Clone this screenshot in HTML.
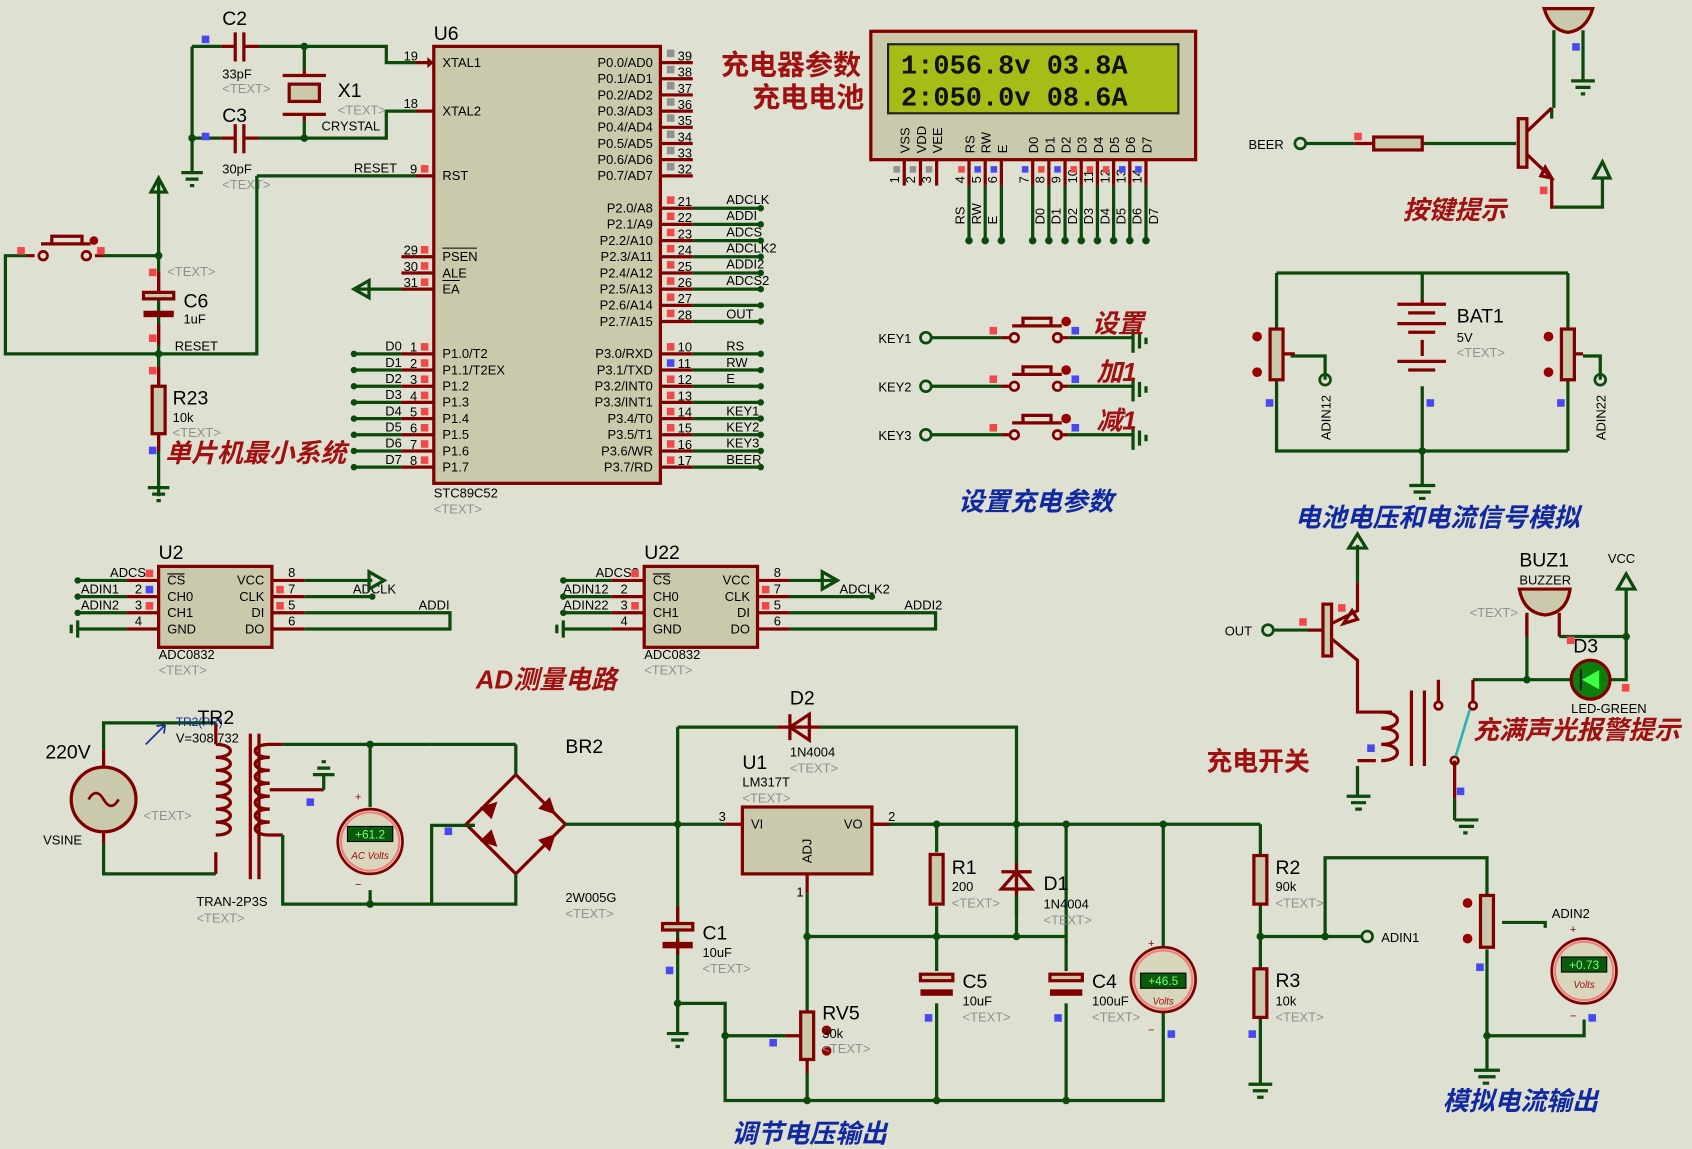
<!DOCTYPE html>
<html><head><meta charset="utf-8"><style>
html,body{margin:0;padding:0;background:#dee0d1;}
svg{display:block}
text{font-family:"Liberation Sans","Noto Sans CJK SC",sans-serif;}
.t{font-size:12px;fill:#000}
.g{font-size:12px;fill:#909090}
.n{font-size:18px;fill:#000}
.r{font-size:24px;font-weight:bold;font-style:italic;fill:#a01010}
.b{font-size:24px;font-weight:bold;font-style:italic;fill:#1028a0}
.w{stroke:#0b4a0b;stroke-width:3;fill:none}
.p{stroke:#800000;stroke-width:3;fill:none}
.c{stroke:#800000;stroke-width:3;fill:#cac9ac}
.d{fill:#0b4a0b}
.rs{fill:#f04848}.bs{fill:#4848f0}.gs{fill:#909090}
</style></head><body>
<svg width="1692" height="1149" viewBox="0 0 1568 1065" preserveAspectRatio="none" xmlns="http://www.w3.org/2000/svg">
<rect width="1568" height="1065" fill="#dee0d1"/>

<!-- ===== Crystal section ===== -->
<path class="w" d="M178 43H205M240 43H358V58H385M178 43V160M178 128H205M240 128H358V103H385M282 43V65M282 112V128"/>
<path class="p" d="M205 43H218M226 43H240M205 128H218M226 128H240M218 30V57M226 30V57M218 115V142M226 115V142M282 65V70M282 106V112M262 70H302M262 106H302"/>
<rect x="268" y="78" width="28" height="16" class="c"/>
<circle cx="282" cy="43" r="3.5" class="d"/><circle cx="282" cy="128" r="3.5" class="d"/><circle cx="178" cy="128" r="3.5" class="d"/>
<rect x="187" y="33" width="7" height="7" class="bs"/><rect x="187" y="123" width="7" height="7" class="bs"/>
<path class="w" d="M168 160H188M172 166H184M176 172H180"/>
<text x="206" y="23" class="n">C2</text><text x="206" y="73" class="t">33pF</text><text x="206" y="86" class="g">&lt;TEXT&gt;</text>
<text x="206" y="113" class="n">C3</text><text x="206" y="161" class="t">30pF</text><text x="206" y="175" class="g">&lt;TEXT&gt;</text>
<text x="313" y="90" class="n">X1</text><text x="313" y="106" class="g">&lt;TEXT&gt;</text><text x="298" y="121" class="t">CRYSTAL</text>
<path class="p" d="M385 58H402M385 103H402M385 163H402"/>
<text x="374" y="56" class="t">19</text><text x="374" y="100" class="t">18</text>
<!-- RESET -->
<path class="w" d="M238 163H385M238 163V328H5V237H25M147 165V460M95 237H147"/>
<path class="p" d="M25 237H32M88 237H95M147 252V270M147 300V320M147 340V358M147 402V418"/>
<circle cx="40" cy="237" r="4" fill="none" stroke="#800000" stroke-width="2.5"/><circle cx="80" cy="237" r="4" fill="none" stroke="#800000" stroke-width="2.5"/>
<path class="p" d="M38 226H84M48 226V219H76V226"/>
<circle cx="87" cy="223" r="4" fill="#900"/>
<rect x="16" y="229" width="7" height="7" class="rs"/><rect x="90" y="229" width="7" height="7" class="rs"/>
<circle cx="147" cy="237" r="3.5" class="d"/><circle cx="147" cy="328" r="3.5" class="d"/>
<path class="w" d="M147 165L140 178H154Z"/>
<rect x="133" y="271" width="28" height="6" class="c"/><path class="p" d="M133 290H161"/>
<rect x="133" y="288" width="28" height="6" fill="#800000"/>
<rect x="138" y="249" width="7" height="7" class="rs"/><rect x="138" y="310" width="7" height="7" class="rs"/><rect x="138" y="340" width="7" height="7" class="rs"/><rect x="138" y="414" width="7" height="7" class="bs"/>
<rect x="141" y="358" width="12" height="44" class="c"/>
<path class="w" d="M137 452H157M141 458H153M145 464H149"/>
<text x="155" y="256" class="g">&lt;TEXT&gt;</text><text x="170" y="285" class="n">C6</text><text x="170" y="300" class="t">1uF</text>
<text x="162" y="325" class="t">RESET</text><text x="328" y="160" class="t">RESET</text><text x="380" y="161" class="t">9</text>
<rect x="390" y="153" width="7" height="7" class="rs"/>
<text x="160" y="375" class="n">R23</text><text x="160" y="391" class="t">10k</text><text x="160" y="405" class="g">&lt;TEXT&gt;</text>
<text x="153" y="428" class="r">单片机最小系统</text>

<!-- ===== U6 ===== -->
<rect x="402" y="43" width="210" height="405" class="c" fill="#cccbb0"/>
<text x="402" y="37" class="n">U6</text>
<text x="402" y="461" class="t">STC89C52</text><text x="402" y="476" class="g">&lt;TEXT&gt;</text>
<path d="M402 58l-6 -5v10z" fill="#800000"/>
<g class="t">
<text x="410" y="62">XTAL1</text><text x="410" y="107">XTAL2</text><text x="410" y="167">RST</text>
<text x="410" y="242">PSEN</text><text x="410" y="257">ALE</text><text x="410" y="272">EA</text>
<text x="410" y="332">P1.0/T2</text><text x="410" y="347">P1.1/T2EX</text><text x="410" y="362">P1.2</text><text x="410" y="377">P1.3</text><text x="410" y="392">P1.4</text><text x="410" y="407">P1.5</text><text x="410" y="422">P1.6</text><text x="410" y="437">P1.7</text>
</g>
<path stroke="#000" stroke-width="1" d="M410 230H442M410 260H426"/>
<g class="t" text-anchor="end">
<text x="605" y="62">P0.0/AD0</text><text x="605" y="77">P0.1/AD1</text><text x="605" y="92">P0.2/AD2</text><text x="605" y="107">P0.3/AD3</text><text x="605" y="122">P0.4/AD4</text><text x="605" y="137">P0.5/AD5</text><text x="605" y="152">P0.6/AD6</text><text x="605" y="167">P0.7/AD7</text>
<text x="605" y="197">P2.0/A8</text><text x="605" y="212">P2.1/A9</text><text x="605" y="227">P2.2/A10</text><text x="605" y="242">P2.3/A11</text><text x="605" y="257">P2.4/A12</text><text x="605" y="272">P2.5/A13</text><text x="605" y="287">P2.6/A14</text><text x="605" y="302">P2.7/A15</text>
<text x="605" y="332">P3.0/RXD</text><text x="605" y="347">P3.1/TXD</text><text x="605" y="362">P3.2/INT0</text><text x="605" y="377">P3.3/INT1</text><text x="605" y="392">P3.4/T0</text><text x="605" y="407">P3.5/T1</text><text x="605" y="422">P3.6/WR</text><text x="605" y="437">P3.7/RD</text>
</g>
<path class="p" d="M612 58H642M612 73H642M612 88H642M612 103H642M612 118H642M612 133H642M612 148H642M612 163H642"/>
<g class="t"><text x="628" y="56">39</text><text x="628" y="71">38</text><text x="628" y="86">37</text><text x="628" y="101">36</text><text x="628" y="116">35</text><text x="628" y="131">34</text><text x="628" y="146">33</text><text x="628" y="161">32</text></g>
<g class="gs"><rect x="618" y="46" width="7" height="7"/><rect x="618" y="61" width="7" height="7"/><rect x="618" y="76" width="7" height="7"/><rect x="618" y="91" width="7" height="7"/><rect x="618" y="106" width="7" height="7"/><rect x="618" y="121" width="7" height="7"/><rect x="618" y="136" width="7" height="7"/><rect x="618" y="151" width="7" height="7"/></g>
<path class="p" d="M612 193H642M612 208H642M612 223H642M612 238H642M612 253H642M612 268H642M612 283H642M612 298H642"/>
<path class="w" d="M642 193H705M642 208H705M642 223H705M642 238H705M642 253H705M642 268H705M642 283H705M642 298H705"/>
<g class="t"><text x="628" y="191">21</text><text x="628" y="206">22</text><text x="628" y="221">23</text><text x="628" y="236">24</text><text x="628" y="251">25</text><text x="628" y="266">26</text><text x="628" y="281">27</text><text x="628" y="296">28</text>
<text x="673" y="189">ADCLK</text><text x="673" y="204">ADDI</text><text x="673" y="219">ADCS</text><text x="673" y="234">ADCLK2</text><text x="673" y="249">ADDI2</text><text x="673" y="264">ADCS2</text><text x="673" y="295">OUT</text></g>
<g class="d"><circle cx="705" cy="193" r="3"/><circle cx="705" cy="208" r="3"/><circle cx="705" cy="223" r="3"/><circle cx="705" cy="238" r="3"/><circle cx="705" cy="253" r="3"/><circle cx="705" cy="268" r="3"/><circle cx="705" cy="283" r="3"/><circle cx="705" cy="298" r="3"/></g>
<g class="rs"><rect x="618" y="182" width="7" height="7"/><rect x="618" y="197" width="7" height="7"/><rect x="618" y="212" width="7" height="7"/><rect x="618" y="227" width="7" height="7"/><rect x="618" y="242" width="7" height="7"/><rect x="618" y="257" width="7" height="7"/><rect x="618" y="272" width="7" height="7"/><rect x="618" y="287" width="7" height="7"/></g>
<path class="p" d="M612 328H642M612 343H642M612 358H642M612 373H642M612 388H642M612 403H642M612 418H642M612 433H642"/>
<path class="w" d="M642 328H705M642 343H705M642 358H705M642 373H705M642 388H705M642 403H705M642 418H705M642 433H705"/>
<g class="t"><text x="628" y="326">10</text><text x="628" y="341">11</text><text x="628" y="356">12</text><text x="628" y="371">13</text><text x="628" y="386">14</text><text x="628" y="401">15</text><text x="628" y="416">16</text><text x="628" y="431">17</text>
<text x="673" y="325">RS</text><text x="673" y="340">RW</text><text x="673" y="355">E</text><text x="673" y="385">KEY1</text><text x="673" y="400">KEY2</text><text x="673" y="415">KEY3</text><text x="673" y="430">BEER</text></g>
<g class="d"><circle cx="705" cy="328" r="3"/><circle cx="705" cy="343" r="3"/><circle cx="705" cy="358" r="3"/><circle cx="705" cy="373" r="3"/><circle cx="705" cy="388" r="3"/><circle cx="705" cy="403" r="3"/><circle cx="705" cy="418" r="3"/><circle cx="705" cy="433" r="3"/></g>
<g class="rs"><rect x="618" y="318" width="7" height="7"/><rect x="618" y="348" width="7" height="7"/><rect x="618" y="363" width="7" height="7"/><rect x="618" y="378" width="7" height="7"/><rect x="618" y="393" width="7" height="7"/><rect x="618" y="408" width="7" height="7"/><rect x="618" y="423" width="7" height="7"/></g>
<g class="bs"><rect x="618" y="333" width="7" height="7"/></g>
<path class="p" d="M372 238H402M372 253H402M372 268H402M372 328H402M372 343H402M372 358H402M372 373H402M372 388H402M372 403H402M372 418H402M372 433H402"/>
<path class="w" d="M328 268H372M328 328H372M328 343H372M328 358H372M328 373H372M328 388H372M328 403H372M328 418H372M328 433H372"/>
<path class="w" d="M328 268l14 -8v16z"/>
<g class="t"><text x="374" y="236">29</text><text x="374" y="251">30</text><text x="374" y="266">31</text>
<text x="380" y="326">1</text><text x="380" y="341">2</text><text x="380" y="356">3</text><text x="380" y="371">4</text><text x="380" y="386">5</text><text x="380" y="401">6</text><text x="380" y="416">7</text><text x="380" y="431">8</text>
<text x="357" y="325">D0</text><text x="357" y="340">D1</text><text x="357" y="355">D2</text><text x="357" y="370">D3</text><text x="357" y="385">D4</text><text x="357" y="400">D5</text><text x="357" y="415">D6</text><text x="357" y="430">D7</text></g>
<g class="d"><circle cx="328" cy="328" r="3"/><circle cx="328" cy="343" r="3"/><circle cx="328" cy="358" r="3"/><circle cx="328" cy="373" r="3"/><circle cx="328" cy="388" r="3"/><circle cx="328" cy="403" r="3"/><circle cx="328" cy="418" r="3"/><circle cx="328" cy="433" r="3"/></g>
<g class="rs"><rect x="390" y="228" width="7" height="7"/><rect x="390" y="243" width="7" height="7"/><rect x="390" y="258" width="7" height="7"/><rect x="390" y="318" width="7" height="7"/><rect x="390" y="333" width="7" height="7"/><rect x="390" y="348" width="7" height="7"/><rect x="390" y="363" width="7" height="7"/><rect x="390" y="378" width="7" height="7"/><rect x="390" y="393" width="7" height="7"/><rect x="390" y="408" width="7" height="7"/><rect x="390" y="423" width="7" height="7"/></g>

<!-- ===== LCD ===== -->
<text x="668" y="69" class="r" style="font-style:normal;font-size:26px">充电器参数</text>
<text x="697" y="99" class="r" style="font-style:normal;font-size:26px">充电电池</text>
<rect x="807" y="29" width="301" height="119" class="c" fill="#cfcdb3"/>
<rect x="823" y="41" width="269" height="64" fill="#a6bd17" stroke="#222" stroke-width="2"/>
<text x="835" y="68" style="font-family:'Liberation Mono',monospace;font-size:25px;font-weight:bold;fill:#111">1:056.8v 03.8A</text>
<text x="835" y="98" style="font-family:'Liberation Mono',monospace;font-size:25px;font-weight:bold;fill:#111">2:050.0v 08.6A</text>
<g class="t" style="font-size:12px">
<text transform="translate(843,142) rotate(-90)">VSS</text><text transform="translate(858,142) rotate(-90)">VDD</text><text transform="translate(873,142) rotate(-90)">VEE</text>
<text transform="translate(903,142) rotate(-90)">RS</text><text transform="translate(918,142) rotate(-90)">RW</text><text transform="translate(933,142) rotate(-90)">E</text>
<text transform="translate(962,142) rotate(-90)">D0</text><text transform="translate(977,142) rotate(-90)">D1</text><text transform="translate(992,142) rotate(-90)">D2</text><text transform="translate(1007,142) rotate(-90)">D3</text><text transform="translate(1022,142) rotate(-90)">D4</text><text transform="translate(1037,142) rotate(-90)">D5</text><text transform="translate(1052,142) rotate(-90)">D6</text><text transform="translate(1067,142) rotate(-90)">D7</text>
<text transform="translate(833,170) rotate(-90)">1</text><text transform="translate(848,170) rotate(-90)">2</text><text transform="translate(863,170) rotate(-90)">3</text>
<text transform="translate(894,170) rotate(-90)">4</text><text transform="translate(909,170) rotate(-90)">5</text><text transform="translate(924,170) rotate(-90)">6</text>
<text transform="translate(953,170) rotate(-90)">7</text><text transform="translate(968,170) rotate(-90)">8</text><text transform="translate(983,170) rotate(-90)">9</text><text transform="translate(998,170) rotate(-90)">10</text><text transform="translate(1013,170) rotate(-90)">11</text><text transform="translate(1028,170) rotate(-90)">12</text><text transform="translate(1043,170) rotate(-90)">13</text><text transform="translate(1058,170) rotate(-90)">14</text>
<text transform="translate(894,208) rotate(-90)">RS</text><text transform="translate(909,208) rotate(-90)">RW</text><text transform="translate(924,208) rotate(-90)">E</text>
<text transform="translate(968,208) rotate(-90)">D0</text><text transform="translate(983,208) rotate(-90)">D1</text><text transform="translate(998,208) rotate(-90)">D2</text><text transform="translate(1013,208) rotate(-90)">D3</text><text transform="translate(1028,208) rotate(-90)">D4</text><text transform="translate(1043,208) rotate(-90)">D5</text><text transform="translate(1058,208) rotate(-90)">D6</text><text transform="translate(1073,208) rotate(-90)">D7</text>
</g>
<path class="p" d="M838 148V172M853 148V172M868 148V172M898 148V172M913 148V172M928 148V172M957 148V172M972 148V172M987 148V172M1002 148V172M1017 148V172M1032 148V172M1047 148V172M1062 148V172"/>
<path class="w" d="M898 172V223M913 172V223M928 172V223M957 172V223M972 172V223M987 172V223M1002 172V223M1017 172V223M1032 172V223M1047 172V223M1062 172V223"/>
<g class="d"><circle cx="898" cy="223" r="3.5"/><circle cx="913" cy="223" r="3.5"/><circle cx="928" cy="223" r="3.5"/><circle cx="957" cy="223" r="3.5"/><circle cx="972" cy="223" r="3.5"/><circle cx="987" cy="223" r="3.5"/><circle cx="1002" cy="223" r="3.5"/><circle cx="1017" cy="223" r="3.5"/><circle cx="1032" cy="223" r="3.5"/><circle cx="1047" cy="223" r="3.5"/><circle cx="1062" cy="223" r="3.5"/></g>
<g><rect x="828" y="154" width="6" height="6" class="gs"/><rect x="843" y="154" width="6" height="6" class="gs"/><rect x="858" y="154" width="6" height="6" class="gs"/><rect x="888" y="154" width="6" height="6" class="rs"/><rect x="903" y="154" width="6" height="6" class="bs"/><rect x="918" y="154" width="6" height="6" class="bs"/><rect x="947" y="154" width="6" height="6" class="bs"/><rect x="962" y="154" width="6" height="6" class="rs"/><rect x="977" y="154" width="6" height="6" class="bs"/><rect x="992" y="154" width="6" height="6" class="rs"/><rect x="1007" y="154" width="6" height="6" class="rs"/><rect x="1022" y="154" width="6" height="6" class="rs"/><rect x="1037" y="154" width="6" height="6" class="bs"/><rect x="1052" y="154" width="6" height="6" class="bs"/></g>

<!-- ===== Keys ===== -->
<g>
<text x="814" y="318" class="t">KEY1</text><text x="814" y="363" class="t">KEY2</text><text x="814" y="408" class="t">KEY3</text>
<circle cx="858" cy="313" r="5" fill="none" stroke="#0b4a0b" stroke-width="2.5"/><circle cx="858" cy="358" r="5" fill="none" stroke="#0b4a0b" stroke-width="2.5"/><circle cx="858" cy="403" r="5" fill="none" stroke="#0b4a0b" stroke-width="2.5"/>
<path class="w" d="M863 313H928M863 358H928M863 403H928M990 313H1050M990 358H1050M990 403H1050M1050 305V327M1056 309V323M1062 313V319M1050 350V372M1056 354V368M1062 358V364M1050 395V417M1056 399V413M1062 403V409"/>
<path class="p" d="M928 313H936M982 313H990M928 358H936M982 358H990M928 403H936M982 403H990M938 302H984M948 302V295H974V302M938 347H984M948 347V340H974V347M938 392H984M948 392V385H974V392"/>
<g fill="none" stroke="#800000" stroke-width="2.5"><circle cx="940" cy="313" r="4"/><circle cx="980" cy="313" r="4"/><circle cx="940" cy="358" r="4"/><circle cx="980" cy="358" r="4"/><circle cx="940" cy="403" r="4"/><circle cx="980" cy="403" r="4"/></g>
<g fill="#900"><circle cx="988" cy="298" r="4.5"/><circle cx="988" cy="343" r="4.5"/><circle cx="988" cy="388" r="4.5"/></g>
<g class="rs"><rect x="917" y="303" width="7" height="7"/><rect x="917" y="348" width="7" height="7"/><rect x="917" y="393" width="7" height="7"/></g>
<g class="bs"><rect x="993" y="303" width="7" height="7"/><rect x="993" y="348" width="7" height="7"/><rect x="993" y="393" width="7" height="7"/></g>
<text x="1012" y="308" class="r">设置</text><text x="1016" y="353" class="r">加1</text><text x="1016" y="398" class="r">减1</text>
<text x="888" y="473" class="b">设置充电参数</text>
</g>

<!-- ===== Buzzer transistor top right ===== -->
<path d="M1431 8H1476Q1470 28 1453 30Q1437 28 1431 8Z" fill="#cac9ac" stroke="#800000" stroke-width="3"/>
<path class="w" d="M1440 28V100M1467 28V75M1456 75H1478M1460 81H1474M1465 87H1469"/>
<rect x="1457" y="40" width="7" height="7" class="bs"/>
<path class="w" d="M1210 133H1255M1320 133H1405M1438 100V110M1485 165V192H1440"/>
<circle cx="1205" cy="133" r="5" fill="none" stroke="#0b4a0b" stroke-width="2.5"/>
<text x="1157" y="138" class="t">BEER</text>
<path class="p" d="M1255 133H1273M1315 133H1320"/><rect x="1273" y="127" width="45" height="12" class="c"/>
<rect x="1255" y="123" width="7" height="7" class="rs"/>
<rect x="1407" y="110" width="8" height="45" class="c"/>
<path class="p" d="M1415 122L1438 100M1415 143L1438 165V192H1440M1438 165l-10 -2l4 -8z"/>
<path class="w" d="M1485 150L1477 165H1492Z"/>
<rect x="1427" y="173" width="7" height="7" class="rs"/>
<text x="1300" y="203" class="r">按键提示</text>

<!-- ===== Battery sim ===== -->
<path class="w" d="M1183 253H1453M1183 253V305M1183 352V418H1453M1453 253V305M1453 352V418M1318 253V282M1318 358V450M1228 352V330H1196M1483 352V330H1467"/>
<path class="p" d="M1295 282H1340M1305 290H1330M1295 300H1340M1305 308H1330M1318 315V330M1295 335H1340M1305 343H1330M1318 278V282"/>
<rect x="1177" y="305" width="12" height="47" class="c"/><rect x="1447" y="305" width="12" height="47" class="c"/>
<path class="p" d="M1189 328H1200M1459 328H1467"/>
<circle cx="1228" cy="352" r="5" fill="none" stroke="#0b4a0b" stroke-width="2.5"/><circle cx="1483" cy="352" r="5" fill="none" stroke="#0b4a0b" stroke-width="2.5"/>
<g fill="#900"><circle cx="1165" cy="312" r="4.5"/><circle cx="1165" cy="345" r="4.5"/><circle cx="1435" cy="312" r="4.5"/><circle cx="1435" cy="345" r="4.5"/></g>
<g class="bs"><rect x="1173" y="370" width="7" height="7"/><rect x="1322" y="370" width="7" height="7"/><rect x="1443" y="370" width="7" height="7"/></g>
<circle cx="1318" cy="418" r="3.5" class="d"/>
<path class="w" d="M1306 450H1330M1310 456H1326M1315 462H1321"/>
<text x="1350" y="299" class="n">BAT1</text><text x="1350" y="317" class="t">5V</text><text x="1350" y="331" class="g">&lt;TEXT&gt;</text>
<text transform="translate(1233,408) rotate(-90)" class="t">ADIN12</text><text transform="translate(1488,408) rotate(-90)" class="t">ADIN22</text>
<text x="1200" y="488" class="b">电池电压和电流信号模拟</text>

<!-- ===== Relay / LED section ===== -->
<path class="w" d="M1258 505V540M1180 584H1225M1258 710V738M1248 738H1270M1252 744H1266M1256 750H1262M1348 760H1370M1352 766H1366M1356 772H1360M1348 740V760M1415 630V590M1415 630H1365M1415 630H1455M1415 590V570M1445 590H1507V545M1507 590V630H1492"/>
<path class="w" d="M1258 495L1250 508H1266Z"/>
<circle cx="1175" cy="584" r="5" fill="none" stroke="#0b4a0b" stroke-width="2.5"/>
<text x="1135" y="589" class="t">OUT</text>
<rect x="1226" y="560" width="8" height="48" class="c"/>
<path class="p" d="M1258 540V566L1234 578M1234 592L1258 612V660H1290M1258 705H1275M1212 584H1226M1245 578l8-12l5 8z"/>
<path class="p" d="M1280 660c20 0 20 15 0 15c20 0 20 15 0 15c20 0 20 15 0 15M1308 640V710M1320 640V710M1333 630V652M1365 630V652M1348 705V740"/>
<circle cx="1333" cy="654" r="3.5" fill="none" stroke="#800000" stroke-width="2.5"/><circle cx="1365" cy="654" r="3.5" fill="none" stroke="#800000" stroke-width="2.5"/><circle cx="1348" cy="705" r="3.5" fill="none" stroke="#800000" stroke-width="2.5"/>
<path d="M1362 658L1349 701" stroke="#2bb3b3" stroke-width="2.5"/>
<rect x="1267" y="690" width="7" height="7" class="bs"/><rect x="1350" y="730" width="7" height="7" class="bs"/>
<rect x="1204" y="573" width="7" height="7" class="rs"/><rect x="1240" y="560" width="7" height="7" class="rs"/>
<path d="M1408 546H1455Q1452 568 1432 570Q1412 568 1408 546Z" fill="#cac9ac" stroke="#800000" stroke-width="3"/>
<path class="p" d="M1415 568V590M1445 568V590"/>
<rect x="1452" y="590" width="7" height="7" class="rs"/>
<path class="w" d="M1507 532L1499 546H1515Z"/>
<circle cx="1474" cy="630" r="18" fill="#0d7d0d" stroke="#800000" stroke-width="3"/>
<path d="M1466 630L1482 621V639Z" fill="#40ff40"/><path d="M1465 620V640" stroke="#222" stroke-width="2"/>
<rect x="1503" y="634" width="7" height="7" class="rs"/>
<g class="d"><circle cx="1415" cy="630" r="3.5"/><circle cx="1507" cy="590" r="3.5"/></g>
<text x="1408" y="525" class="n">BUZ1</text><text x="1408" y="542" class="t">BUZZER</text><text x="1362" y="572" class="g">&lt;TEXT&gt;</text>
<text x="1490" y="522" class="t">VCC</text><text x="1458" y="605" class="n">D3</text><text x="1456" y="661" class="t">LED-GREEN</text>
<text x="1118" y="714" class="r" style="font-style:normal">充电开关</text>
<text x="1365" y="685" class="r">充满声光报警提示</text>

<!-- ===== ADC U2 ===== -->
<rect x="147" y="525" width="105" height="75" class="c"/>
<text x="147" y="518" class="n">U2</text><text x="147" y="611" class="t">ADC0832</text><text x="147" y="625" class="g">&lt;TEXT&gt;</text>
<g class="t"><text x="155" y="542">CS</text><text x="155" y="557">CH0</text><text x="155" y="572">CH1</text><text x="155" y="587">GND</text>
<text x="245" y="542" text-anchor="end">VCC</text><text x="245" y="557" text-anchor="end">CLK</text><text x="245" y="572" text-anchor="end">DI</text><text x="245" y="587" text-anchor="end">DO</text>
<text x="125" y="550">2</text><text x="125" y="565">3</text><text x="125" y="580">4</text><text x="267" y="535">8</text><text x="267" y="550">7</text><text x="267" y="565">5</text><text x="267" y="580">6</text>
<text x="102" y="535">ADCS</text><text x="75" y="550">ADIN1</text><text x="75" y="565">ADIN2</text><text x="327" y="550">ADCLK</text><text x="388" y="565">ADDI</text></g>
<path stroke="#000" d="M155 532H171"/>
<path class="p" d="M117 538H147M117 553H147M117 568H147M117 583H147M252 538H282M252 553H282M252 568H282M252 583H282"/>
<path class="w" d="M72 538H117M72 553H117M72 568H117M72 583H117M282 538H345M282 553H345M282 568H417V583H282M72 575V591M66 579V587M342 530l14 8l-14 8z"/>
<g class="d"><circle cx="72" cy="538" r="3"/><circle cx="72" cy="553" r="3"/><circle cx="72" cy="568" r="3"/><circle cx="345" cy="553" r="3"/></g>
<g class="rs"><rect x="135" y="528" width="7" height="7"/><rect x="135" y="558" width="7" height="7"/><rect x="256" y="543" width="7" height="7"/><rect x="256" y="558" width="7" height="7"/></g>
<g class="bs"><rect x="135" y="543" width="7" height="7"/></g>
<!-- U22 -->
<rect x="597" y="525" width="105" height="75" class="c"/>
<text x="597" y="518" class="n">U22</text><text x="597" y="611" class="t">ADC0832</text><text x="597" y="625" class="g">&lt;TEXT&gt;</text>
<g class="t"><text x="605" y="542">CS</text><text x="605" y="557">CH0</text><text x="605" y="572">CH1</text><text x="605" y="587">GND</text>
<text x="695" y="542" text-anchor="end">VCC</text><text x="695" y="557" text-anchor="end">CLK</text><text x="695" y="572" text-anchor="end">DI</text><text x="695" y="587" text-anchor="end">DO</text>
<text x="575" y="550">2</text><text x="575" y="565">3</text><text x="575" y="580">4</text><text x="717" y="535">8</text><text x="717" y="550">7</text><text x="717" y="565">5</text><text x="717" y="580">6</text>
<text x="552" y="535">ADCS2</text><text x="522" y="550">ADIN12</text><text x="522" y="565">ADIN22</text><text x="778" y="550">ADCLK2</text><text x="838" y="565">ADDI2</text></g>
<path stroke="#000" d="M605 532H621"/>
<path class="p" d="M567 538H597M567 553H597M567 568H597M567 583H597M702 538H732M702 553H732M702 568H732M702 583H732"/>
<path class="w" d="M522 538H567M522 553H567M522 568H567M522 583H567M732 538H775M732 553H808M732 568H867V583H732M522 575V591M516 579V587M762 530l14 8l-14 8z"/>
<g class="d"><circle cx="522" cy="538" r="3"/><circle cx="522" cy="553" r="3"/><circle cx="522" cy="568" r="3"/><circle cx="808" cy="553" r="3"/></g>
<g class="rs"><rect x="585" y="528" width="7" height="7"/><rect x="585" y="558" width="7" height="7"/><rect x="706" y="543" width="7" height="7"/><rect x="706" y="558" width="7" height="7"/></g>
<text x="441" y="638" class="r">AD测量电路</text>

<!-- ===== Power section ===== -->
<circle cx="96" cy="741" r="30" fill="#cac9ac" stroke="#800000" stroke-width="3"/>
<path d="M82 741q7-12 14 0t14 0" fill="none" stroke="#800000" stroke-width="2.5"/>
<path class="p" d="M96 711V695M96 771V782"/>
<path class="w" d="M96 695V670H200M96 782V810H200"/>
<path class="p" d="M200 670V690M200 790V810M200 690c18 0 18 12 0 12c18 0 18 12 0 12c18 0 18 12 0 12c18 0 18 12 0 12c18 0 18 12 0 12c18 0 18 12 0 12c18 0 18 12 0 12M232 680V815M240 680V815M250 690c-18 0-18 12 0 12c-18 0-18 12 0 12c-18 0-18 12 0 12c-18 0-18 12 0 12c-18 0-18 12 0 12c-18 0-18 12 0 12c-18 0-18 12 0 12M250 690H262M250 774H262M250 732H300"/>
<path class="w" d="M262 690H343V748M262 774V838H343V825M300 732V718M290 718H310M294 712H306M298 706H302M343 838H400V765H440M343 690H400"/>
<path d="M135 690L153 672M153 672l-8 1m8-1l-1 8" stroke="#1028a0" stroke-width="1.5" fill="none"/>
<text x="42" y="703" class="n">220V</text><text x="40" y="783" class="t">VSINE</text><text x="133" y="760" class="g">&lt;TEXT&gt;</text>
<text x="163" y="673" style="font-size:11px;fill:#1028a0">TR2(PR)</text><text x="163" y="688" class="t">V=308.732</text>
<text x="183" y="671" class="n">TR2</text><text x="182" y="840" class="t">TRAN-2P3S</text><text x="182" y="855" class="g">&lt;TEXT&gt;</text>
<rect x="284" y="740" width="7" height="7" class="bs"/>
<circle cx="343" cy="780" r="30" fill="#d8d6bb" stroke="#800000" stroke-width="2.5"/>
<circle cx="343" cy="780" r="27" fill="none" stroke="#f08080" stroke-width="2"/>
<rect x="322" y="766" width="42" height="14" fill="#0b5a0b" stroke="#000"/>
<text x="343" y="777" text-anchor="middle" style="font-size:11px;fill:#7f7">+61.2</text>
<text x="343" y="796" text-anchor="middle" style="font-size:9px;font-style:italic;fill:#a01010">AC Volts</text>
<text x="329" y="742" style="font-size:10px;fill:#800">+</text><text x="329" y="823" style="font-size:10px;fill:#800">−</text>
<circle cx="343" cy="690" r="3.5" class="d"/><circle cx="343" cy="838" r="3.5" class="d"/>
<path class="p" d="M478 718L524 764L478 810L432 764Z" fill="none"/>
<path class="w" d="M478 690V718M440 765H432M524 764H628M400 690H478M478 810V838H400"/>
<g stroke="#800000" stroke-width="2.5" fill="#800000"><path d="M447 749l12-4l-4 12z"/><path d="M501 749l12 4l-4-12z" /><path d="M447 779l12 4l-4-12z"/><path d="M501 779l12-4l-4 12z"/></g>
<rect x="412" y="767" width="7" height="7" class="bs"/>
<text x="524" y="698" class="n">BR2</text><text x="524" y="836" class="t">2W005G</text><text x="524" y="851" class="g">&lt;TEXT&gt;</text>
<path class="w" d="M628 674V930M628 674H720M760 674H942V850M628 764H672M808 764H1168"/>
<path class="p" d="M720 674H760M732 662V686M732 674L750 662V686Z" fill="#800000"/>
<text x="732" y="653" class="n">D2</text><text x="732" y="701" class="t">1N4004</text><text x="732" y="716" class="g">&lt;TEXT&gt;</text>
<rect x="688" y="748" width="120" height="62" class="c"/>
<text x="688" y="713" class="n">U1</text><text x="688" y="729" class="t">LM317T</text><text x="688" y="744" class="g">&lt;TEXT&gt;</text>
<text x="696" y="768" class="t">VI</text><text x="782" y="768" class="t">VO</text><text transform="translate(752,800) rotate(-90)" class="t">ADJ</text>
<text x="666" y="761" class="t">3</text><text x="823" y="761" class="t">2</text><text x="738" y="831" class="t">1</text>
<path class="p" d="M672 764H688M808 764H824M748 810V828"/>
<path class="w" d="M748 828V938M748 868H988M628 930H672V1020H1078V935"/>
<path class="p" d="M628 840V855M614 857H642M628 870V885"/><rect x="614" y="856" width="28" height="6" class="c"/><rect x="614" y="873" width="28" height="6" fill="#800000"/>
<rect x="617" y="896" width="7" height="7" class="bs"/>
<path class="w" d="M618 958H638M622 964H634M626 970H630M628 930V958"/>
<text x="651" y="871" class="n">C1</text><text x="651" y="887" class="t">10uF</text><text x="651" y="902" class="g">&lt;TEXT&gt;</text>
<rect x="742" y="938" width="12" height="44" class="c"/>
<path class="p" d="M728 960H742M748 982V995"/><path class="w" d="M672 960H728M748 995V1020"/>
<g fill="#900"><circle cx="766" cy="955" r="4.5"/><circle cx="766" cy="974" r="4.5"/></g>
<rect x="713" y="963" width="7" height="7" class="bs"/>
<text x="762" y="945" class="n">RV5</text><text x="762" y="962" class="t">30k</text><text x="762" y="976" class="g">&lt;TEXT&gt;</text>
<path class="w" d="M868 764V790M868 840V900M942 764V800M942 830V868M988 764V900M1078 764V880M868 930V1020M988 930V1020"/>
<rect x="862" y="792" width="12" height="46" class="c"/>
<path class="p" d="M928 808H956M942 808L928 824H956Z" fill="#800000"/>
<path class="p" d="M942 800V830"/>
<rect x="853" y="903" width="30" height="6" class="c"/><rect x="853" y="917" width="30" height="6" fill="#800000"/>
<rect x="973" y="903" width="30" height="6" class="c"/><rect x="973" y="917" width="30" height="6" fill="#800000"/>
<rect x="857" y="940" width="7" height="7" class="bs"/><rect x="977" y="940" width="7" height="7" class="bs"/><rect x="1082" y="955" width="7" height="7" class="bs"/>
<text x="882" y="810" class="n">R1</text><text x="882" y="826" class="t">200</text><text x="882" y="841" class="g">&lt;TEXT&gt;</text>
<text x="967" y="825" class="n">D1</text><text x="967" y="842" class="t">1N4004</text><text x="967" y="857" class="g">&lt;TEXT&gt;</text>
<text x="892" y="916" class="n">C5</text><text x="892" y="932" class="t">10uF</text><text x="892" y="947" class="g">&lt;TEXT&gt;</text>
<text x="1012" y="916" class="n">C4</text><text x="1012" y="932" class="t">100uF</text><text x="1012" y="947" class="g">&lt;TEXT&gt;</text>
<g class="d"><circle cx="628" cy="764" r="3.5"/><circle cx="868" cy="764" r="3.5"/><circle cx="942" cy="764" r="3.5"/><circle cx="988" cy="764" r="3.5"/><circle cx="1078" cy="764" r="3.5"/><circle cx="748" cy="868" r="3.5"/><circle cx="868" cy="868" r="3.5"/><circle cx="942" cy="868" r="3.5"/><circle cx="628" cy="930" r="3.5"/><circle cx="868" cy="1020" r="3.5"/><circle cx="988" cy="1020" r="3.5"/><circle cx="748" cy="1020" r="3.5"/><circle cx="672" cy="960" r="3.5"/></g>
<circle cx="1078" cy="908" r="30" fill="#d8d6bb" stroke="#800000" stroke-width="2.5"/>
<circle cx="1078" cy="908" r="27" fill="none" stroke="#f08080" stroke-width="2"/>
<rect x="1057" y="902" width="42" height="14" fill="#0b5a0b" stroke="#000"/>
<text x="1078" y="913" text-anchor="middle" style="font-size:11px;fill:#7f7">+46.5</text>
<text x="1078" y="931" text-anchor="middle" style="font-size:9px;font-style:italic;fill:#a01010">Volts</text>
<text x="1064" y="878" style="font-size:10px;fill:#800">+</text><text x="1064" y="958" style="font-size:10px;fill:#800">−</text>
<text x="678" y="1059" class="b">调节电压输出</text>
<path class="w" d="M1168 764V793M1168 838V898M1168 943V1005M1168 868H1262M1228 868V795H1378V830M1378 880V960H1468V945M1157 1005H1179M1161 1011H1175M1165 1017H1171M1366 992H1390M1370 998H1386M1374 1004H1380M1378 960V992M1392 855H1432V860"/>
<rect x="1162" y="793" width="12" height="45" class="c"/><rect x="1162" y="898" width="12" height="45" class="c"/>
<circle cx="1267" cy="868" r="5" fill="none" stroke="#0b4a0b" stroke-width="2.5"/>
<text x="1280" y="873" class="t">ADIN1</text>
<g class="d"><circle cx="1168" cy="868" r="3.5"/><circle cx="1228" cy="868" r="3.5"/><circle cx="1378" cy="960" r="3.5"/></g>
<text x="1182" y="810" class="n">R2</text><text x="1182" y="826" class="t">90k</text><text x="1182" y="841" class="g">&lt;TEXT&gt;</text>
<text x="1182" y="915" class="n">R3</text><text x="1182" y="932" class="t">10k</text><text x="1182" y="947" class="g">&lt;TEXT&gt;</text>
<rect x="1157" y="955" width="7" height="7" class="bs"/>
<rect x="1372" y="830" width="12" height="48" class="c"/>
<g fill="#900"><circle cx="1360" cy="837" r="4.5"/><circle cx="1360" cy="870" r="4.5"/></g>
<rect x="1368" y="893" width="7" height="7" class="bs"/>
<text x="1438" y="851" class="t">ADIN2</text>
<circle cx="1468" cy="900" r="30" fill="#d8d6bb" stroke="#800000" stroke-width="2.5"/>
<circle cx="1468" cy="900" r="27" fill="none" stroke="#f08080" stroke-width="2"/>
<rect x="1447" y="887" width="42" height="14" fill="#0b5a0b" stroke="#000"/>
<text x="1468" y="898" text-anchor="middle" style="font-size:11px;fill:#7f7">+0.73</text>
<text x="1468" y="916" text-anchor="middle" style="font-size:9px;font-style:italic;fill:#a01010">Volts</text>
<text x="1455" y="865" style="font-size:10px;fill:#800">+</text><text x="1455" y="945" style="font-size:10px;fill:#800">−</text>
<rect x="1472" y="940" width="7" height="7" class="bs"/>
<text x="1337" y="1029" class="b">模拟电流输出</text>
</svg>
</body></html>
